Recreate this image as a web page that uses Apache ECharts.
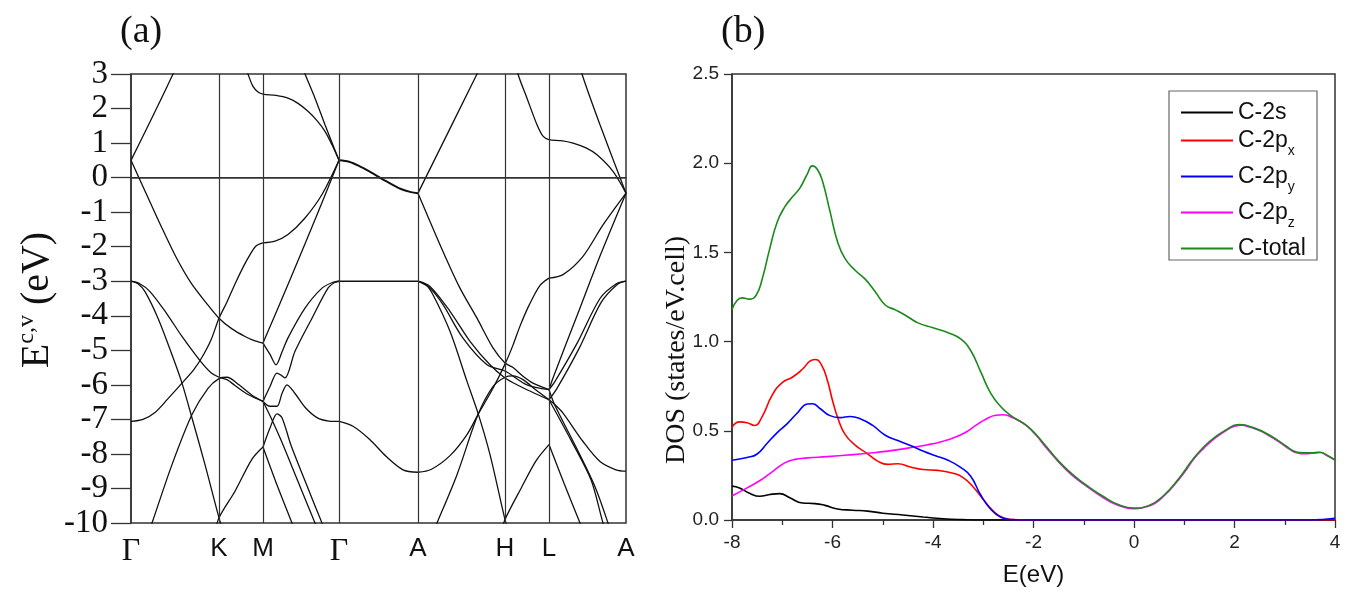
<!DOCTYPE html>
<html><head><meta charset="utf-8">
<script src="https://cdn.jsdelivr.net/npm/echarts@6/dist/echarts.min.js"></script>
<style>html,body{margin:0;padding:0;background:#fff}#c{width:1349px;height:592px}</style>
</head><body><div id="c"></div>
<script>
// ---------- Panel (a): band structure ----------
const kPos = [0, 88, 132, 208, 287, 374, 418, 495];
const kLabels = ['Γ', 'K', 'M', 'Γ', 'A', 'H', 'L', 'A'];

const band1 = [[0,0.5],[42,3.0],[56,4.0]];
const band2 = [[0,0.5],[15,-0.45],[30,-1.4],[45,-2.3],[60,-3.05],[75,-3.62],[88,-4.07],[101,-4.38],[114,-4.6],[124,-4.73],[132,-4.79]];
const band3 = [[0,-7.06],[12,-7.0],[24,-6.8],[37,-6.4],[51,-5.95],[63,-5.55],[71,-5.2],[80,-4.7],[88,-4.07],[96,-3.6],[104,-3.08],[112,-2.6],[118,-2.28],[125,-1.98],[132,-1.89]];
const band4 = [[0,-3.0],[8,-3.06],[19,-3.3],[36,-3.95],[51,-4.6],[69,-5.3],[80,-5.65],[88,-5.78],[96,-5.85],[104,-6.02],[117,-6.28],[132,-6.48]];
const band5 = [[0,-3.0],[7,-3.07],[14,-3.3],[27,-4.07],[41,-5.13],[51,-5.95],[61,-6.96],[74,-8.31],[88,-9.85],[94,-10.4]];
const band6 = [[16,-10.4],[21,-10],[41,-8.31],[61,-6.86],[77,-6.1],[88,-5.82],[96,-5.78],[108,-6.0],[121,-6.3],[132,-6.48]];
const band7 = [[83,-10.4],[88,-9.85],[104,-9.08],[121,-8.15],[132,-7.8]];
const band8 = [[108,3.8],[117,3.0],[122,2.64],[127,2.48],[132,2.42],[145,2.38],[157,2.3],[167,2.15],[177,1.92],[186,1.65],[194,1.34],[201,0.95],[208,0.5]];
const band9 = [[168,3.44],[174,3.0],[184,2.3],[194,1.53],[208,0.5]];
const band10 = [[132,-1.89],[144,-1.84],[157,-1.65],[174,-1.17],[191,-0.49],[208,0.5]];
const band11 = [[132,-4.79],[159,-2.96],[185,-1.15],[208,0.5]];
const band12 = [[132,-4.79],[139,-5.12],[145,-5.42],[151,-5.05],[157,-4.64],[174,-3.78],[191,-3.2],[202,-3.03],[208,-3.0]];
const band13 = [[132,-6.48],[139,-6.05],[146,-5.66],[150,-5.72],[154,-5.8],[164,-5.03],[181,-4.07],[197,-3.2],[204,-3.03],[208,-3.0]];
const band14 = [[132,-6.48],[139,-6.62],[146,-6.62],[151,-6.25],[156,-6.0],[164,-6.25],[174,-6.65],[186,-6.95],[198,-7.05],[208,-7.06]];
const band15 = [[132,-7.8],[139,-7.25],[146,-6.84],[151,-6.95],[160,-7.75],[175,-8.85],[191,-10],[197,-10.4]];
const band16 = [[132,-7.8],[146,-8.9],[161,-10],[166,-10.4]];
const band17 = [[132,-6.48],[140,-6.95],[150,-7.6],[167,-8.8],[184,-10],[190,-10.4]];
const band18 = [[208,0.5],[218,0.46],[228,0.34],[240,0.15],[255,-0.1],[270,-0.33],[280,-0.42],[287,-0.45]];
const band19 = [[208,-3.0],[287,-3.0]];
const band20 = [[208,-7.06],[222,-7.2],[239,-7.59],[255,-8.07],[272,-8.46],[287,-8.53]];
const band21 = [[287,-0.45],[346,3.0],[362,3.94]];
const band22 = [[287,-0.45],[299,-1.27],[312,-2.14],[329,-3.2],[346,-4.07],[362,-4.93],[374,-5.37],[382,-5.5],[392,-5.75],[402,-5.95],[418,-6.14]];
const band23 = [[287,-8.53],[300,-8.45],[319,-8.05],[336,-7.44],[347,-6.86],[362,-6.1],[374,-5.4],[382,-4.85],[389,-4.3],[398,-3.7],[409,-3.12],[418,-2.91]];
const band24 = [[300,-10.4],[306,-10],[326,-8.6],[347,-6.86],[362,-6.05],[374,-5.78],[382,-5.74],[392,-5.85],[405,-6.15],[418,-6.43]];
const band25 = [[287,-3.0],[299,-3.15],[319,-3.87],[339,-4.74],[359,-5.42],[374,-5.8],[389,-6.04],[404,-6.25],[418,-6.43]];
const band26 = [[287,-3.0],[299,-3.2],[312,-3.68],[332,-4.65],[356,-5.42],[374,-5.6],[396,-6.0],[418,-6.14]];
const band27 = [[287,-3.0],[295,-3.1],[302,-3.39],[319,-4.45],[336,-5.9],[347,-6.82],[359,-8.02],[374,-9.9],[379,-10.4]];
const band28 = [[369,-10.4],[374,-9.9],[390,-9.0],[405,-8.2],[418,-7.73]];
const band29 = [[380,3.9],[387,3.0],[396,2.3],[406,1.53],[412,1.2],[418,1.1],[430,1.07],[442,1.0],[455,0.86],[466,0.66],[482,0.18],[495,-0.45]];
const band30 = [[446,3.6],[451,3.0],[469,1.53],[495,-0.45]];
const band31 = [[418,-2.91],[432,-2.81],[452,-2.28],[472,-1.37],[495,-0.45]];
const band32 = [[418,-6.14],[422,-5.8],[446,-4.0],[470,-2.2],[495,-0.45]];
const band33 = [[418,-6.14],[424,-5.9],[446,-4.8],[469,-3.5],[485,-3.08],[495,-3.0]];
const band34 = [[418,-6.43],[426,-6.1],[448,-4.95],[470,-3.62],[486,-3.1],[495,-3.0]];
const band35 = [[418,-6.43],[423,-6.55],[432,-6.82],[452,-7.64],[469,-8.22],[485,-8.46],[495,-8.5]];
const band36 = [[418,-6.43],[440,-7.6],[460,-8.75],[472,-10],[477,-10.4]];
const band37 = [[418,-6.14],[424,-6.6],[445,-7.8],[464,-8.95],[477,-10],[481,-10.4]];
const band38 = [[418,-7.73],[433,-8.85],[449,-10],[454,-10.4]];
const bands = [band1,band2,band3,band4,band5,band6,band7,band8,band9,band10,band11,band12,band13,band14,band15,band16,band17,band18,band19,band20,band21,band22,band23,band24,band25,band26,band27,band28,band29,band30,band31,band32,band33,band34,band35,band36,band37,band38];

// ---------- Panel (b): DOS ----------
const dosNames = ['C-2s', 'C-2px', 'C-2py', 'C-2pz', 'C-total'];
const dos2s = [[-8,0.19],[-7.85,0.18],[-7.65,0.15],[-7.45,0.133],[-7.25,0.143],[-7.05,0.148],[-6.85,0.125],[-6.6,0.095],[-6.35,0.092],[-6.15,0.082],[-5.9,0.062],[-5.6,0.055],[-5.3,0.05],[-5.0,0.038],[-4.6,0.028],[-4.2,0.017],[-3.8,0.007],[-3.4,0.002],[-3.0,0],[4,0]];
const dos2px = [[-8,0.52],[-7.85,0.55],[-7.7,0.545],[-7.55,0.53],[-7.4,0.58],[-7.2,0.7],[-7.0,0.77],[-6.8,0.8],[-6.6,0.845],[-6.45,0.89],[-6.35,0.9],[-6.22,0.87],[-6.1,0.78],[-6.0,0.67],[-5.88,0.56],[-5.75,0.48],[-5.55,0.42],[-5.32,0.375],[-5.1,0.33],[-4.9,0.312],[-4.7,0.315],[-4.45,0.297],[-4.2,0.283],[-3.9,0.278],[-3.6,0.262],[-3.4,0.238],[-3.2,0.185],[-3.0,0.115],[-2.8,0.05],[-2.6,0.012],[-2.4,0.002],[-2.2,0],[4,0]];
const dos2py = [[-8,0.335],[-7.7,0.35],[-7.5,0.37],[-7.3,0.43],[-7.1,0.49],[-6.9,0.54],[-6.7,0.6],[-6.5,0.65],[-6.4,0.652],[-6.25,0.625],[-6.05,0.585],[-5.85,0.574],[-5.65,0.58],[-5.45,0.568],[-5.2,0.53],[-4.95,0.475],[-4.7,0.445],[-4.45,0.418],[-4.2,0.387],[-3.95,0.36],[-3.7,0.335],[-3.45,0.295],[-3.25,0.245],[-3.05,0.14],[-2.85,0.06],[-2.65,0.015],[-2.45,0.002],[-2.25,0],[3.5,0],[3.8,0.004],[4,0.01]];
const dos2pz = [[-8,0.135],[-7.7,0.18],[-7.45,0.22],[-7.2,0.27],[-6.95,0.32],[-6.75,0.34],[-6.5,0.348],[-6.1,0.355],[-5.7,0.364],[-5.3,0.374],[-4.9,0.386],[-4.5,0.403],[-4.1,0.422],[-3.8,0.442],[-3.55,0.465],[-3.33,0.495],[-3.15,0.53],[-2.95,0.565],[-2.75,0.587],[-2.6,0.59],[-2.45,0.578],[-2.3,0.558],[-2.15,0.532],[-1.95,0.476],[-1.75,0.406],[-1.5,0.326],[-1.25,0.256],[-1.0,0.201],[-0.75,0.151],[-0.5,0.106],[-0.25,0.076],[0,0.063],[0.2,0.071],[0.4,0.091],[0.6,0.136],[0.8,0.196],[1.0,0.266],[1.2,0.346],[1.4,0.406],[1.6,0.456],[1.8,0.496],[2.0,0.526],[2.15,0.531],[2.3,0.521],[2.5,0.501],[2.7,0.471],[2.9,0.436],[3.1,0.396],[3.25,0.376],[3.4,0.371],[3.55,0.374],[3.7,0.378],[3.85,0.36],[4.0,0.338]];
const dosTotal = [[-8,1.18],[-7.9,1.23],[-7.8,1.245],[-7.65,1.238],[-7.52,1.26],[-7.4,1.35],[-7.25,1.52],[-7.1,1.67],[-6.95,1.755],[-6.8,1.81],[-6.65,1.86],[-6.5,1.94],[-6.4,1.985],[-6.3,1.965],[-6.2,1.9],[-6.05,1.73],[-5.9,1.56],[-5.75,1.465],[-5.55,1.4],[-5.35,1.35],[-5.15,1.28],[-4.95,1.205],[-4.75,1.178],[-4.55,1.148],[-4.3,1.105],[-4.0,1.077],[-3.7,1.05],[-3.45,1.015],[-3.25,0.95],[-3.05,0.83],[-2.85,0.71],[-2.65,0.635],[-2.45,0.585],[-2.25,0.55],[-2.05,0.508],[-1.8,0.43],[-1.5,0.33],[-1.2,0.25],[-0.9,0.185],[-0.6,0.13],[-0.3,0.085],[0,0.067],[0.3,0.082],[0.6,0.14],[0.9,0.235],[1.2,0.35],[1.5,0.44],[1.8,0.5],[2.1,0.535],[2.4,0.515],[2.7,0.475],[3.0,0.42],[3.25,0.38],[3.5,0.376],[3.7,0.38],[3.85,0.362],[4.0,0.335]];
const dosColors = ['#000000', '#ff0000', '#0000ff', '#ff00ff', '#1a8a1a'];
const legendCenters = [111, 139, 175, 211, 247];

const chart = echarts.init(document.getElementById('c'), null, {renderer: 'canvas'});
const frame = '#333';

const series = [];
bands.forEach((b, i) => {
  const s = {
    type: 'line', xAxisIndex: 0, yAxisIndex: 0, data: b,
    symbol: 'none', showSymbol: false, smooth: 0.3, silent: true, clip: true,
    lineStyle: {color: '#111', width: (b === band18 ? 2.0 : 1.3)}, z: 3
  };
  if (i === 0) {
    s.markLine = {
      silent: true, symbol: 'none', label: {show: false}, animation: false,
      lineStyle: {color: frame, width: 1.2, type: 'solid'},
      data: kPos.slice(1, -1).map(v => ({xAxis: v})).concat([{yAxis: 0}])
    };
  }
  series.push(s);
});
const dosData = {'C-2s': dos2s, 'C-2px': dos2px, 'C-2py': dos2py, 'C-2pz': dos2pz, 'C-total': dosTotal};
['C-2s', 'C-2px', 'C-2pz', 'C-2py', 'C-total'].forEach(n => {
  const col = dosColors[dosNames.indexOf(n)];
  series.push({
    name: n, type: 'line', xAxisIndex: 1, yAxisIndex: 1, data: dosData[n],
    symbol: 'none', showSymbol: false, smooth: 0.5, silent: true,
    color: col, lineStyle: {color: col, width: 1.6}, z: 3
  });
});

const richLegend = {
  m: {fontSize: 23, lineHeight: 36, fontFamily: 'Liberation Sans', color: '#111'},
  b: {fontSize: 14, lineHeight: 8, verticalAlign: 'bottom', fontFamily: 'Liberation Sans', color: '#111'}
};
const legends = dosNames.map((n, i) => ({
  data: [{name: n, icon: 'rect'}], left: 1181, top: legendCenters[i] - 10, padding: 0, orient: 'vertical',
  itemWidth: 52, itemHeight: 2, selectedMode: false,
  formatter: name => name.startsWith('C-2p') ? '{m|C-2p}{b|' + name.slice(4) + '}' : '{m|' + name + '}',
  textStyle: {rich: richLegend}
}));

const option = {
  animation: false,
  backgroundColor: '#fff',
  title: [
    {text: '(a)', left: 120, top: 13, padding: 0, textStyle: {fontFamily: 'Liberation Serif', fontSize: 38, fontWeight: 'normal', color: '#111'}},
    {text: '(b)', left: 721, top: 13, padding: 0, textStyle: {fontFamily: 'Liberation Serif', fontSize: 38, fontWeight: 'normal', color: '#111'}}
  ],
  legend: legends,
  grid: [
    {left: 131, top: 74, width: 495, height: 449, show: true, borderColor: frame, borderWidth: 1.5, containLabel: false, outerBoundsMode: 'none'},
    {left: 732, top: 74, width: 603, height: 446, show: true, borderColor: frame, borderWidth: 1.5, containLabel: false, outerBoundsMode: 'none'}
  ],
  xAxis: [
    {gridIndex: 0, type: 'value', min: 0, max: 495,
      axisLine: {show: true, lineStyle: {color: frame, width: 1.5}},
      axisTick: {show: false}, splitLine: {show: false},
      axisLabel: {
        customValues: kPos, margin: 13, color: '#111',
        formatter: v => { const l = kLabels[kPos.indexOf(v)]; return l === 'Γ' ? '{g|Γ}' : '{s|' + l + '}'; },
        rich: {g: {fontFamily: 'Liberation Serif', fontSize: 32, color: '#111'}, s: {fontFamily: 'Liberation Sans', fontSize: 26, color: '#111'}}
      }},
    {gridIndex: 1, type: 'value', min: -8, max: 4, interval: 2,
      axisLine: {show: true, onZero: false, lineStyle: {color: frame, width: 1.5}},
      axisTick: {show: true, length: 8, lineStyle: {color: frame, width: 1.3}},
      minorTick: {show: true, splitNumber: 2, length: 5, lineStyle: {color: frame, width: 1.3}},
      splitLine: {show: false},
      axisLabel: {fontFamily: 'Liberation Sans', fontSize: 19, color: '#222', margin: 13},
      name: 'E(eV)', nameLocation: 'middle', nameGap: 43,
      nameTextStyle: {fontFamily: 'Liberation Sans', fontSize: 24, color: '#111'}}
  ],
  yAxis: [
    {gridIndex: 0, type: 'value', min: -10, max: 3, interval: 1,
      axisLine: {show: true, lineStyle: {color: frame, width: 1.5}},
      axisTick: {show: true, length: 20, lineStyle: {color: frame, width: 1.3}},
      splitLine: {show: false},
      axisLabel: {fontFamily: 'Liberation Serif', fontSize: 33, color: '#111', margin: 23}},
    {gridIndex: 1, type: 'value', min: 0, max: 2.5, interval: 0.5,
      axisLine: {show: true, onZero: false, lineStyle: {color: frame, width: 1.5}},
      axisTick: {show: true, length: 8, lineStyle: {color: frame, width: 1.3}},
      splitLine: {show: false},
      axisLabel: {fontFamily: 'Liberation Sans', fontSize: 19, color: '#222', margin: 13, formatter: v => v.toFixed(1)}}
  ],
  graphic: [
    {type: 'text', x: 37, y: 300, rotation: Math.PI / 2, silent: true,
      style: {text: '{e|E}{s|c,v}{e| (eV)}', align: 'center', verticalAlign: 'middle', fill: '#111',
        rich: {e: {fontFamily: 'Liberation Serif', fontSize: 40, lineHeight: 44, fill: '#111'},
               s: {fontFamily: 'Liberation Serif', fontSize: 24, lineHeight: 24, verticalAlign: 'top', fill: '#111'}}}},
    {type: 'text', x: 677, y: 350, rotation: Math.PI / 2, silent: true,
      style: {text: 'DOS (states/eV.cell)', align: 'center', verticalAlign: 'middle', fill: '#111',
        font: '28px "Liberation Serif"'}},
    {type: 'rect', shape: {x: 1169, y: 91, width: 148, height: 169}, silent: true,
      style: {fill: 'none', stroke: '#666', lineWidth: 1.2}, z: 10}
  ],
  series: series
};
chart.setOption(option);
</script></body></html>
